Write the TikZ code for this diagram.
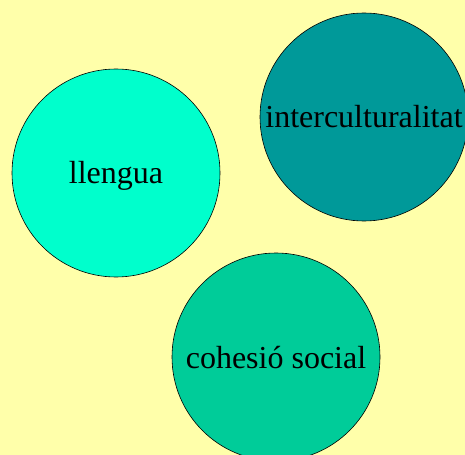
\documentclass[tikz,border=0pt]{standalone}
\usepackage{fontspec}
\setmainfont{Liberation Serif}
\definecolor{fons}{HTML}{FFFFAA}
\definecolor{colLlengua}{HTML}{00FFCC}
\definecolor{colInter}{HTML}{009999}
\definecolor{colCohesio}{HTML}{00CC99}
\tikzset{
    bombolla/.style={circle, draw=black, line width=0.6bp, inner sep=0pt,
        minimum size=208bp, text height=22bp, text depth=0pt,
        font=\fontsize{32bp}{38bp}\selectfont}
}
\begin{document}
\begin{tikzpicture}[x=1bp, y=-1bp]

    % Define the background and the size of the picture
    \fill[fons] (0,0) rectangle (465,455);
    \useasboundingbox (0,0) rectangle (465,455);

    % Draw the three circles and label them
    \foreach \nom/\x/\y/\color/\label in {
        llengua/116/173/colLlengua/llengua,
        inter/364/117/colInter/interculturalitat,
        cohesio/276/357/colCohesio/cohesió social
    } {
        \node[bombolla, fill=\color] (\nom) at (\x,\y) {\label};
    }

\end{tikzpicture}
\end{document}
